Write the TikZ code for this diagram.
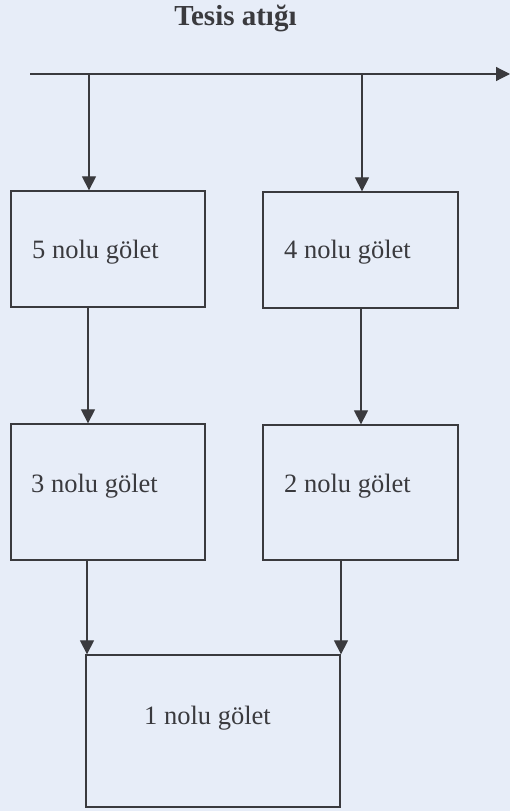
\documentclass[tikz,border=0pt]{standalone}
\usepackage{fontspec}
\setmainfont{Liberation Serif}
\usetikzlibrary{arrows.meta}
\definecolor{paper}{HTML}{E7EDF8}
\definecolor{ink}{HTML}{3A3A3E}
\begin{document}
\begin{tikzpicture}[x=1pt,y=-1pt,
  pond/.style={draw=ink,line width=1.3pt,rectangle,inner sep=0pt},
  lbl/.style={text=ink,font=\fontsize{26.5}{30}\selectfont,anchor=base west,inner sep=0pt},
  flow/.style={draw=ink,line width=1.2pt,-{Triangle[width=14pt,length=14pt]}}]
\fill[paper] (0,0) rectangle (510,811);
\useasboundingbox (0,0) rectangle (510,811);
% title
\node[text=ink,font=\bfseries\fontsize{29}{32}\selectfont,anchor=base,inner sep=0pt] (title) at (235.5,25) {Tesis atığı};
% boxes
\node[pond,minimum width=194pt,minimum height=116pt] (b5) at (108,249) {};
\node[pond,minimum width=195pt,minimum height=116pt] (b4) at (360.5,250) {};
\node[pond,minimum width=194pt,minimum height=136pt] (b3) at (108,492) {};
\node[pond,minimum width=195pt,minimum height=135pt] (b2) at (360.5,492.5) {};
\node[pond,minimum width=254pt,minimum height=152pt] (b1) at (213,731) {};
% labels
\node[lbl] (t5) at (32,258) {5 nolu gölet};
\node[lbl] (t4) at (284,258) {4 nolu gölet};
\node[lbl] (t3) at (31,492) {3 nolu gölet};
\node[lbl] (t2) at (284,492) {2 nolu gölet};
\node[lbl] (t1) at (144,724) {1 nolu gölet};
% main line
\coordinate (L) at (30,74);
\coordinate (R) at (510,74);
\draw[flow] (L) -- (R);
\coordinate (j5) at (89,74);
\coordinate (j4) at (362,74);
\draw[flow] (j5) -- (j5 |- b5.north);
\draw[flow] (j4) -- (j4 |- b4.north);
% between rows
\coordinate (s5) at (88,307);
\coordinate (s4) at (361,308);
\draw[flow] (s5) -- (s5 |- b3.north);
\draw[flow] (s4) -- (s4 |- b2.north);
% into pond 1
\coordinate (s3) at (87,560);
\coordinate (s2) at (341,560);
\draw[flow] (s3) -- (s3 |- b1.north);
\draw[flow] (s2) -- (s2 |- b1.north);
\end{tikzpicture}
\end{document}
